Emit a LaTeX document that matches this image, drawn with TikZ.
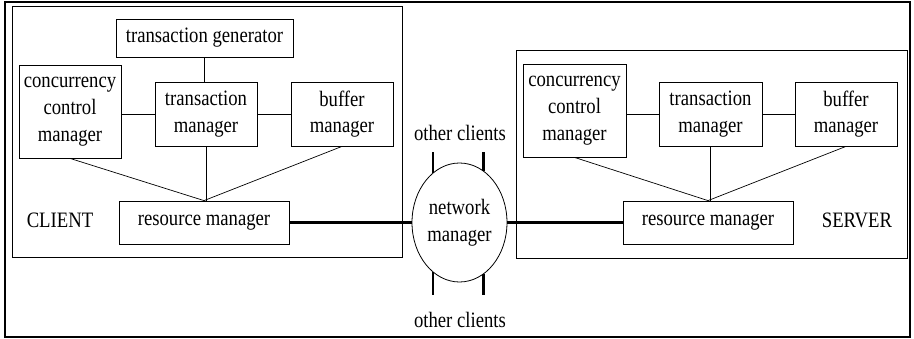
\documentclass[tikz,border=0pt]{standalone}
\usepackage{fontspec}
\setmainfont[FakeStretch=0.85]{Liberation Serif}
\usetikzlibrary{shapes.geometric}
\begin{document}
\begin{tikzpicture}[x=1pt,y=-1pt,
  every node/.style={font=\fontsize{22}{26.7}\selectfont, inner sep=0pt, align=center},
  box/.style={draw, line width=0.8pt},
  thin/.style={line width=0.7pt},
  link/.style={line width=2.4pt}]
\useasboundingbox (0,0) rectangle (914,339);
\draw[line width=1.6pt] (5,2) rectangle (910,337);
% client and server frames
\node[box, minimum width=390, minimum height=251] (client) at (207,131.5) {};
\node[box, minimum width=391, minimum height=208] (server) at (711.5,154) {};
% client nodes
\node[box, minimum width=177, minimum height=38] (tg) at (204.5,38) {transaction generator};
\node[box, minimum width=102, minimum height=93] (ccm) at (70,111.5) {concurrency\\control\\manager};
\node[box, minimum width=102, minimum height=64] (tm) at (206,114) {transaction\\manager};
\node[box, minimum width=102, minimum height=64] (bm) at (342,114) {buffer\\manager};
\node[box, minimum width=170, minimum height=43] (rm) at (204,222.5) {resource manager};
\node (cl) at (60,220) {CLIENT};
% server nodes
\node[box, minimum width=103, minimum height=93] (ccm2) at (574.5,110.5) {concurrency\\control\\manager};
\node[box, minimum width=103, minimum height=64] (tm2) at (710.5,114) {transaction\\manager};
\node[box, minimum width=102, minimum height=64] (bm2) at (846,114) {buffer\\manager};
\node[box, minimum width=170, minimum height=43] (rm2) at (708,222.5) {resource manager};
\node (sv) at (857,220) {SERVER};
% network manager
\node[draw, ellipse, line width=0.8pt, minimum width=95, minimum height=119] (net) at (459.5,222.5) {network\\manager};
\node (oc1) at (460,133) {other clients};
\node (oc2) at (460,320) {other clients};
\coordinate (ttop) at (459.5,152);
\coordinate (tbot) at (459.5,295);
% client links
\draw[thin] (tg.south) -- (tg.south |- tm.north);
\draw[thin] (tm.west) -- (tm.west -| ccm.east);
\draw[thin] (tm.east) -- (bm.west);
\draw[thin] (ccm.south) -- (rm.north);
\draw[thin] (tm.south) -- (tm.south |- rm.north);
\draw[thin] (bm.south) -- (rm.north);
% server links
\draw[thin] (tm2.west) -- (tm2.west -| ccm2.east);
\draw[thin] (tm2.east) -- (bm2.west);
\draw[thin] (ccm2.south) -- (rm2.north);
\draw[thin] (tm2.south) -- (tm2.south |- rm2.north);
\draw[thin] (bm2.south) -- (rm2.north);
% network links
\draw[link] (rm.east) -- (net.west);
\draw[link] (net.east) -- (rm2.west);
\draw[link] (net.118) -- (net.118 |- ttop);
\draw[link] (net.65.6) -- (net.65.6 |- ttop);
\draw[link] (net.-118) -- (net.-118 |- tbot);
\draw[link] (net.-65.6) -- (net.-65.6 |- tbot);
\end{tikzpicture}
\end{document}
